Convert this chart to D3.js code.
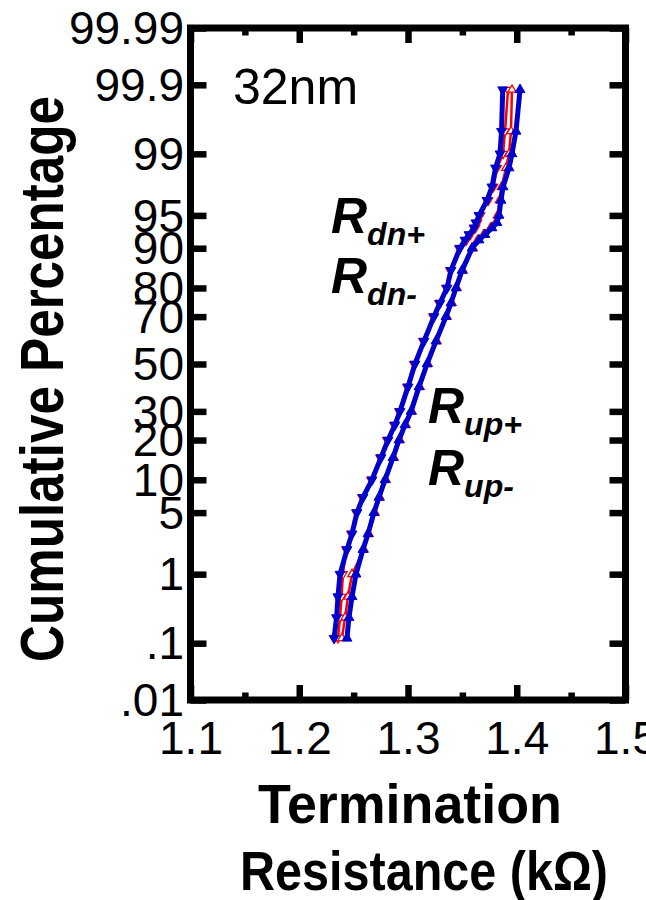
<!DOCTYPE html>
<html><head><meta charset="utf-8">
<script src="https://cdn.jsdelivr.net/npm/d3@7"></script>
<style>
html,body{margin:0;padding:0;background:#fff;}
svg{display:block;}
</style></head>
<body><svg id="chart" width="646" height="900"></svg>
<script>
// ---- data ----
const percentiles = [0.12, 0.25, 0.5, 1, 2, 3, 5, 7, 10, 15, 20, 25, 30, 40, 50, 60, 70, 75, 80, 85, 90, 91.5, 92.4, 93.4, 94.1, 95, 96.5, 97.5, 98.5, 99, 99.5, 99.88];
const rdnBlue = [1.2320, 1.2343, 1.2356, 1.2375, 1.2439, 1.2485, 1.2531, 1.2586, 1.2669, 1.2752, 1.2816, 1.2880, 1.2926, 1.3000, 1.3064, 1.3147, 1.3239, 1.3294, 1.3359, 1.3395, 1.3478, 1.3524, 1.3561, 1.3607, 1.3625, 1.3653, 1.3726, 1.3772, 1.3805, 1.3846, 1.3860, 1.3871];
const rdnRed = [1.2356, 1.2375, 1.2389, 1.2402, 1.2430, 1.2476, 1.2522, 1.2577, 1.2660, 1.2743, 1.2807, 1.2871, 1.2917, 1.2991, 1.3055, 1.3138, 1.3230, 1.3285, 1.3350, 1.3386, 1.3469, 1.3538, 1.3575, 1.3621, 1.3639, 1.3667, 1.3740, 1.3786, 1.3819, 1.3874, 1.3892, 1.3920];
const rupRed = [1.2393, 1.2421, 1.2448, 1.2485, 1.2595, 1.2641, 1.2696, 1.2742, 1.2798, 1.2871, 1.2926, 1.2981, 1.3037, 1.3110, 1.3184, 1.3266, 1.3358, 1.3404, 1.3450, 1.3506, 1.3598, 1.3639, 1.3694, 1.3758, 1.3804, 1.3823, 1.3841, 1.3860, 1.3901, 1.3929, 1.3947, 1.3956];
const rupBlue = [1.2439, 1.2457, 1.2485, 1.2522, 1.2586, 1.2632, 1.2687, 1.2733, 1.2789, 1.2862, 1.2917, 1.2972, 1.3028, 1.3101, 1.3175, 1.3257, 1.3349, 1.3395, 1.3441, 1.3497, 1.3589, 1.3653, 1.3708, 1.3772, 1.3818, 1.3837, 1.3855, 1.3874, 1.3929, 1.3956, 1.3993, 1.4030];
const yTickValues = [0.01, 0.1, 1, 5, 10, 20, 30, 50, 70, 80, 90, 95, 99, 99.9, 99.99];
const yTickLabels = [".01", ".1", "1", "5", "10", "20", "30", "50", "70", "80", "90", "95", "99", "99.9", "99.99"];
const xMajorTicks = [1.1, 1.2, 1.3, 1.4, 1.5];
const xMinorTicks = [1.15, 1.25, 1.35, 1.45];

// inverse normal CDF (Acklam)
function probit(p){
  const a=[-3.969683028665376e+01,2.209460984245205e+02,-2.759285104469687e+02,1.383577518672690e+02,-3.066479806614716e+01,2.506628277459239e+00];
  const b=[-5.447609879822406e+01,1.615858368580409e+02,-1.556989798598866e+02,6.680131188771972e+01,-1.328068155288572e+01];
  const c=[-7.784894002430293e-03,-3.223964580411365e-01,-2.400758277161838e+00,-2.549732539343734e+00,4.374664141464968e+00,2.938163982698783e+00];
  const d=[7.784695709041462e-03,3.224671290700398e-01,2.445134137142996e+00,3.754408661907416e+00];
  const pl=0.02425, ph=1-pl; let q,r;
  if(p<pl){q=Math.sqrt(-2*Math.log(p));return (((((c[0]*q+c[1])*q+c[2])*q+c[3])*q+c[4])*q+c[5])/((((d[0]*q+d[1])*q+d[2])*q+d[3])*q+1);}
  if(p<=ph){q=p-0.5;r=q*q;return (((((a[0]*r+a[1])*r+a[2])*r+a[3])*r+a[4])*r+a[5])*q/(((((b[0]*r+b[1])*r+b[2])*r+b[3])*r+b[4])*r+1);}
  q=Math.sqrt(-2*Math.log(1-p));return -(((((c[0]*q+c[1])*q+c[2])*q+c[3])*q+c[4])*q+c[5])/((((d[0]*q+d[1])*q+d[2])*q+d[3])*q+1);
}

const L=190.5, R=625.5, T=28, B=700;
const svg = d3.select("#chart");
const x = d3.scaleLinear().domain([1.1,1.5]).range([L,R]);
const zmax = probit(0.9999);
const zs = d3.scaleLinear().domain([-zmax, zmax]).range([B,T]);
const y = p => zs(probit(p/100));

function probScale(){
  const f = p => y(p);
  f.domain = () => [0.01, 99.99];
  f.range = () => [B, T];
  f.copy = () => probScale();
  return f;
}
const ps = probScale();
const labelMap = new Map(yTickValues.map((v,i)=>[v,yTickLabels[i]]));
const tickW = 6.5;

const gL = svg.append("g").attr("transform",`translate(${L},0)`)
  .call(d3.axisLeft(ps).tickValues(yTickValues).tickFormat(v=>labelMap.get(v)).tickSizeInner(-16).tickSizeOuter(0).tickPadding(6.5));
const gR = svg.append("g").attr("transform",`translate(${R},0)`)
  .call(d3.axisRight(ps).tickValues(yTickValues).tickFormat("").tickSizeInner(-16).tickSizeOuter(0));
const gB = svg.append("g").attr("transform",`translate(0,${B})`)
  .call(d3.axisBottom(x).tickValues(xMajorTicks).tickFormat(d3.format(".1f")).tickSizeInner(-15).tickSizeOuter(0).tickPadding(21));
const gBm = svg.append("g").attr("transform",`translate(0,${B})`)
  .call(d3.axisBottom(x).tickValues(xMinorTicks).tickFormat("").tickSizeInner(-7.5).tickSizeOuter(0));
const gT = svg.append("g").attr("transform",`translate(0,${T})`)
  .call(d3.axisTop(x).tickValues(xMajorTicks).tickFormat("").tickSizeInner(-15).tickSizeOuter(0));
const gTm = svg.append("g").attr("transform",`translate(0,${T})`)
  .call(d3.axisTop(x).tickValues(xMinorTicks).tickFormat("").tickSizeInner(-7.5).tickSizeOuter(0));

[gL,gR,gB,gBm,gT,gTm].forEach(g=>{
  g.select(".domain").remove();
  g.selectAll(".tick line").attr("stroke","#000").attr("stroke-width",tickW);
  g.selectAll(".tick text").attr("fill","#000").style("font-family","'Liberation Sans', Arial, sans-serif").style("font-size","46px");
});
gL.selectAll(".tick text").attr("dy","0.34em");

// frame
svg.append("rect").attr("x",L).attr("y",T).attr("width",R-L).attr("height",B-T)
  .attr("fill","none").attr("stroke","#000").attr("stroke-width",7);

// series
const series = [
  {vals: rdnRed, color:"#ff0000", width:2.5, filled:false, rot:180},
  {vals: rupRed, color:"#ff0000", width:2.5, filled:false, rot:0},
  {vals: rdnBlue, color:"#0000cc", width:5, filled:true, rot:180},
  {vals: rupBlue, color:"#0000cc", width:5, filled:true, rot:0}
];
const line = d3.line().x(d=>x(d[0])).y(d=>y(d[1]));
series.forEach(s=>{
  const tri = d3.symbol().type(d3.symbolTriangle).size(s.filled ? 42 : 30);
  const pts = s.vals.map((v,i)=>[v, percentiles[i]]);
  const g = svg.append("g");
  g.append("path").attr("d",line(pts)).attr("fill","none").attr("stroke",s.color).attr("stroke-width",s.width).attr("stroke-linejoin","round");
  g.selectAll("path.m").data(pts).enter().append("path").attr("class","m")
    .attr("d",tri)
    .attr("transform",d=>`translate(${x(d[0])},${y(d[1])}) rotate(${s.rot})`)
    .attr("fill", s.filled ? s.color : "#fff")
    .attr("stroke", s.color).attr("stroke-width", s.filled?1:1.3);
});

// texts
const ff = "'Liberation Sans', Arial, sans-serif";
svg.append("text").attr("x",233).attr("y",104).attr("font-family",ff).attr("font-size",50).text("32nm");

function rlabel(xp, yp, sub){
  const t = svg.append("text").attr("x",xp).attr("y",yp).attr("font-family",ff)
    .attr("font-weight","bold").attr("font-style","italic").attr("font-size",50);
  t.append("tspan").text("R");
  t.append("tspan").attr("font-size",32).attr("dy",12).text(sub);
}
rlabel(331,233,"dn+");
rlabel(331,293,"dn-");
rlabel(428,423,"up+");
rlabel(428,485,"up-");

svg.append("text").attr("x",258).attr("y",823).attr("font-family",ff).attr("font-weight","bold")
  .attr("font-size",56).attr("textLength",304).attr("lengthAdjust","spacingAndGlyphs").text("Termination");
svg.append("text").attr("x",240).attr("y",890).attr("font-family",ff).attr("font-weight","bold")
  .attr("font-size",56).attr("textLength",368).attr("lengthAdjust","spacingAndGlyphs").text("Resistance (kΩ)");
svg.append("text").attr("transform","translate(63,662) rotate(-90)").attr("font-family",ff).attr("font-weight","bold")
  .attr("font-size",62).attr("textLength",566).attr("lengthAdjust","spacingAndGlyphs").text("Cumulative Percentage");
</script>
</body></html>
